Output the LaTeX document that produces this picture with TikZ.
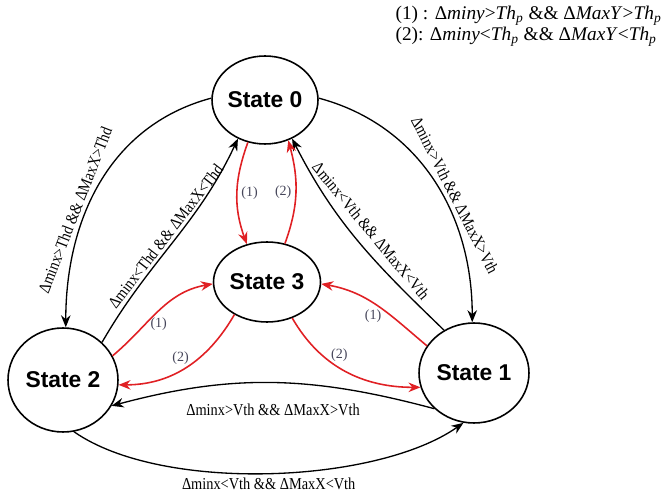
\documentclass[tikz,border=0pt]{standalone}
\usepackage{fontspec}
\setmainfont{Liberation Serif}
\newfontfamily\statefont{Liberation Sans}
\newfontfamily\condfont[FakeStretch=0.86]{Liberation Serif}
\usepackage{xcolor}
\usetikzlibrary{arrows.meta,shapes.geometric}
\definecolor{arrowred}{RGB}{224,32,36}
\definecolor{tagtext}{RGB}{70,70,90}

\begin{document}
\begin{tikzpicture}[>=Stealth, x=0.02cm, y=0.02cm,
  state/.style={ellipse, draw, line width=0.9pt, inner sep=0pt,
    font=\statefont\bfseries\fontsize{13}{15}\selectfont},
  blackedge/.style={->, line width=0.75pt, >={Stealth[length=2.4mm,width=1.9mm]}},
  rededge/.style={->, arrowred, line width=0.9pt, >={Stealth[length=2.4mm,width=1.9mm]}},
  cond/.style={font=\condfont\fontsize{9.5}{11}\selectfont, inner sep=1.5pt},
  tag/.style={font=\fontsize{8}{9}\selectfont, text=tagtext, inner sep=1pt}]
  \useasboundingbox (0,0) rectangle (665,500);

  % States
  \node[state, minimum width=2.12cm, minimum height=1.76cm] (s0) at (265,400) {State 0};
  \node[state, minimum width=2.14cm, minimum height=1.6cm] (s3) at (267,218) {State 3};
  \node[state, minimum width=2.2cm, minimum height=2.08cm] (s2) at (63,120) {State 2};
  \node[state, minimum width=2.2cm, minimum height=2.0cm] (s1) at (474,127) {State 1};

  % Legend (top right)
  \node[anchor=north east, align=left, font=\fontsize{11}{11.6}\selectfont, inner sep=0pt]
    (legend) at (662,494)
    {(1) : Δ\textit{miny}>\textit{Th}\textsubscript{\textit{p}} \&\& Δ\textit{MaxY}>\textit{Th}\textsubscript{\textit{p}}\\
     (2): Δ\textit{miny}<\textit{Th}\textsubscript{\textit{p}} \&\& Δ\textit{MaxY}<\textit{Th}\textsubscript{\textit{p}}};

  % Black transitions, left side
  \draw[blackedge] (s0.178) to[out=195, in=90]
    node[cond, pos=0.62, sloped, above=1pt] {Δminx>Thd \&\& ΔMaxX>Thd} (s2.87);
  \draw[blackedge] (s2.44) to[out=60, in=245]
    node[cond, midway, sloped, above] {Δminx<Thd \&\& ΔMaxX<Thd} (s0.235);

  % Black transitions, right side
  \draw[blackedge] (s0.2) to[out=-15, in=90]
    node[cond, pos=0.58, sloped, above=1pt] {Δminx>Vth \&\& ΔMaxX>Vth} (s1.92);
  \draw[blackedge] (s1.125) to[out=136, in=-63]
    node[cond, midway, sloped, above=4pt] {Δminx<Vth \&\& ΔMaxX<Vth} (s0.305);

  % Black transitions, bottom
  \draw[blackedge] (s1.222) to[out=165, in=15]
    node[cond, midway, below=10pt] {Δminx>Vth \&\& ΔMaxX>Vth} (s2.-28);
  \draw[blackedge] (s2.-78) to[out=-35, in=-145, looseness=0.7]
    node[cond, midway, below=1pt] {Δminx<Vth \&\& ΔMaxX<Vth} (s1.258);

  % Red transitions with State 3
  \draw[rededge] (s0.248) to[out=250, in=110] node[tag, midway, right=1pt] {(1)} (s3.118);
  \draw[rededge] (s3.65) to[out=70, in=-75] node[tag, midway, left=1pt] {(2)} (s0.300);
  \draw[rededge] (s2.26) to[out=40, in=190] node[tag, pos=0.5, below=2pt] {(1)} (s3.182);
  \draw[rededge] (s3.225) to[out=240, in=0] node[tag, pos=0.55, above=2pt] {(2)} (s2.-5);
  \draw[rededge] (s1.150) to[out=140, in=-10] node[tag, pos=0.55, below=2pt] {(1)} (s3.-2);
  \draw[rededge] (s3.-55) to[out=-60, in=180] node[tag, pos=0.45, above=2pt] {(2)} (s1.195);
\end{tikzpicture}
\end{document}
